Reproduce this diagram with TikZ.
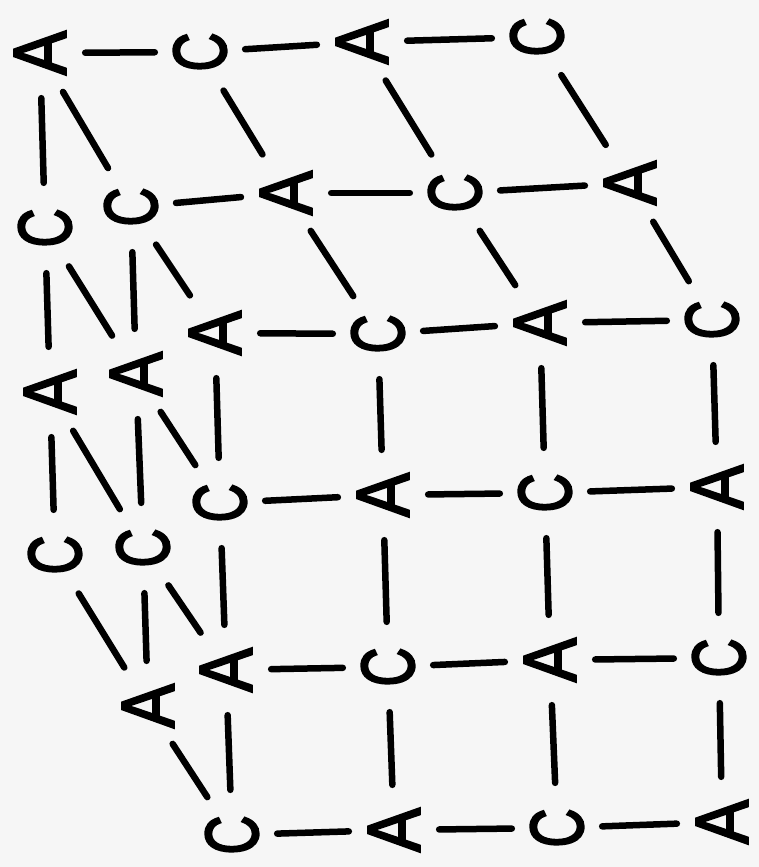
\documentclass[tikz,border=0pt]{standalone}
\usepackage{graphicx}
\usepackage{fontspec}
\setmainfont{Liberation Sans}
\newfontfamily\leroy{Liberation Sans}[FakeBold=3]
\definecolor{paper}{RGB}{246,246,246}
\newcommand\latA{\scalebox{0.88}[1]{A}}
\newcommand\latC{\scalebox{0.72}[1]{C}}
\begin{document}
\begin{tikzpicture}[x=1pt,y=-1pt,
  site/.style={circle,minimum size=90pt,inner sep=0pt,rotate=90,font=\leroy\fontsize{75}{75}\selectfont},
  bond/.style={line width=6.5pt,line cap=round}]
\fill[paper] (0,0) rectangle (759,867);
\useasboundingbox (0,0) rectangle (759,867);
% back layer
\node[site] (b00) at (40,53) {\latA};
\node[site] (b10) at (200,52) {\latC};
\node[site] (b20) at (362,42) {\latA};
\node[site] (b30) at (537,37) {\latC};
\node[site] (b01) at (45,228) {\latC};
\node[site] (b02) at (50,392) {\latA};
\node[site] (b03) at (55,555) {\latC};
% middle layer
\node[site] (m00) at (131,207) {\latC};
\node[site] (m10) at (286,193) {\latA};
\node[site] (m20) at (455,193) {\latC};
\node[site] (m30) at (630,183) {\latA};
\node[site] (m01) at (136,374) {\latA};
\node[site] (m02) at (143,548) {\latC};
\node[site] (m03) at (148,706) {\latA};
% front layer
\node[site] (f00) at (215,333) {\latA};
\node[site] (f10) at (378,334) {\latC};
\node[site] (f20) at (540,323) {\latA};
\node[site] (f30) at (712,320) {\latC};
\node[site] (f01) at (220,503) {\latC};
\node[site] (f11) at (383,495) {\latA};
\node[site] (f21) at (545,493) {\latC};
\node[site] (f31) at (717,487) {\latA};
\node[site] (f02) at (226,670) {\latA};
\node[site] (f12) at (388,667) {\latC};
\node[site] (f22) at (550,660) {\latA};
\node[site] (f32) at (719,658) {\latC};
\node[site] (f03) at (232,835) {\latC};
\node[site] (f13) at (394,830) {\latA};
\node[site] (f23) at (557,828) {\latC};
\node[site] (f33) at (722,822) {\latA};
% back bonds
\draw[bond] (b00) -- (b10);
\draw[bond] (b10) -- (b20);
\draw[bond] (b20) -- (b30);
\draw[bond] (b00) -- (b01);
\draw[bond] (b01) -- (b02);
\draw[bond] (b02) -- (b03);
% middle bonds
\draw[bond] (m00) -- (m10);
\draw[bond] (m10) -- (m20);
\draw[bond] (m20) -- (m30);
\draw[bond] (m00) -- (m01);
\draw[bond] (m01) -- (m02);
\draw[bond] (m02) -- (m03);
% depth bonds
\foreach \n in {00,10,20,30,01,02,03}{
  \draw[bond] (b\n) -- (m\n);
  \draw[bond] (m\n) -- (f\n);
}
% front grid
\foreach \j in {0,1,2,3}{
  \draw[bond] (f0\j) -- (f1\j);
  \draw[bond] (f1\j) -- (f2\j);
  \draw[bond] (f2\j) -- (f3\j);
  \draw[bond] (f\j0) -- (f\j1);
  \draw[bond] (f\j1) -- (f\j2);
  \draw[bond] (f\j2) -- (f\j3);
}
\end{tikzpicture}
\end{document}
